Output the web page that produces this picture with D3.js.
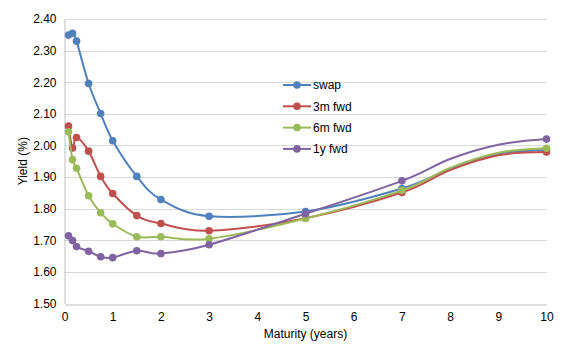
<!DOCTYPE html>
<html><head><meta charset="utf-8">
<script src="https://cdn.jsdelivr.net/npm/d3@7"></script>
<style>body{margin:0;background:#fff}svg{display:block}text{font-family:"Liberation Sans",Arial,sans-serif;fill:#000}</style>
</head><body><svg id="c" width="571" height="356"></svg>
<script>
// maturities (years); points at 8 and 9 shape the smoothed line but carry no marker
const maturities = [1/12, 1/6, 0.25, 0.5, 0.75, 1, 1.5, 2, 3, 5, 7, 8, 9, 10];
const hasMarker  = [1, 1, 1, 1, 1, 1, 1, 1, 1, 1, 1, 0, 0, 1];
const swap   = [2.349, 2.355, 2.330, 2.196, 2.101, 2.015, 1.902, 1.829, 1.776, 1.791, 1.864, 1.926, 1.974, 1.985];
const fwd3m  = [2.061, 1.992, 2.025, 1.982, 1.902, 1.848, 1.778, 1.753, 1.730, 1.770, 1.851, 1.922, 1.969, 1.979];
const fwd6m  = [2.043, 1.955, 1.928, 1.841, 1.787, 1.752, 1.711, 1.711, 1.705, 1.769, 1.858, 1.929, 1.977, 1.991];
const fwd1y  = [1.714, 1.699, 1.680, 1.665, 1.648, 1.645, 1.667, 1.658, 1.686, 1.784, 1.888, 1.957, 2.002, 2.020];
const seriesNames = ["swap", "3m fwd", "6m fwd", "1y fwd"];
const colors = ["#4F81BD", "#C0504D", "#9BBB59", "#8064A2"];
const yTicks = [1.5, 1.6, 1.7, 1.8, 1.9, 2.0, 2.1, 2.2, 2.3, 2.4];
const xTicks = [0,1,2,3,4,5,6,7,8,9,10];

const svg = d3.select("#c");
const x = d3.scaleLinear().domain([0, 10]).range([64.5, 546.5]);
const y = d3.scaleLinear().domain([1.5, 2.4]).range([303.5, 19]);

// gridlines
svg.append("g").selectAll("line").data(yTicks.slice(1)).join("line")
  .attr("x1", x(0)).attr("x2", x(10))
  .attr("y1", d => Math.round(y(d)) + 0.5).attr("y2", d => Math.round(y(d)) + 0.5)
  .attr("stroke", "#d9d9d9").attr("stroke-width", 1);

// axes
const yAxis = svg.append("g").attr("transform", `translate(${x(0)},0)`)
  .call(d3.axisLeft(y).tickValues(yTicks).tickFormat(d3.format(".2f")).tickSize(0).tickPadding(8));
yAxis.select(".domain").attr("stroke", "#bfbfbf");
yAxis.selectAll("text").style("font-size", "12px").attr("font-family", null);

const xAxis = svg.append("g").attr("transform", `translate(0,${Math.round(y(1.5)) + 0.5})`)
  .call(d3.axisBottom(x).tickValues(xTicks).tickFormat(d3.format("d")).tickSize(0).tickPadding(8));
xAxis.select(".domain").attr("stroke", "#bfbfbf");
xAxis.selectAll("text").style("font-size", "12px").attr("font-family", null);

// titles
svg.append("text").attr("x", x(5)).attr("y", 338).attr("text-anchor", "middle")
  .style("font-size", "12px").text("Maturity (years)");
svg.append("text").attr("transform", `translate(23,${(y(1.5)+y(2.4))/2}) rotate(-90)`)
  .attr("text-anchor", "middle").attr("dy", "0.35em").style("font-size", "12px").text("Yield (%)");

// series
const allSeries = [swap, fwd3m, fwd6m, fwd1y];
const line = d3.line().x((d, i) => x(maturities[i])).y(d => y(d)).curve(d3.curveCardinal.tension(0));
allSeries.forEach((vals, s) => {
  const g = svg.append("g");
  g.append("path").attr("d", line(vals)).attr("fill", "none")
    .attr("stroke", colors[s]).attr("stroke-width", 2);
  g.selectAll("circle").data(vals.map((v, i) => [maturities[i], v]).filter((d, i) => hasMarker[i]))
    .join("circle")
    .attr("cx", d => x(d[0])).attr("cy", d => y(d[1])).attr("r", 3.8)
    .attr("fill", colors[s]);
});

// legend
const leg = svg.append("g");
seriesNames.forEach((n, i) => {
  const ly = 85 + i * 21.3;
  leg.append("line").attr("x1", 283).attr("x2", 311).attr("y1", ly).attr("y2", ly)
    .attr("stroke", colors[i]).attr("stroke-width", 2);
  leg.append("circle").attr("cx", 297).attr("cy", ly).attr("r", 3.8).attr("fill", colors[i]);
  leg.append("text").attr("x", 313).attr("y", ly).attr("dy", "0.35em")
    .style("font-size", "12px").text(n);
});
</script></body></html>
